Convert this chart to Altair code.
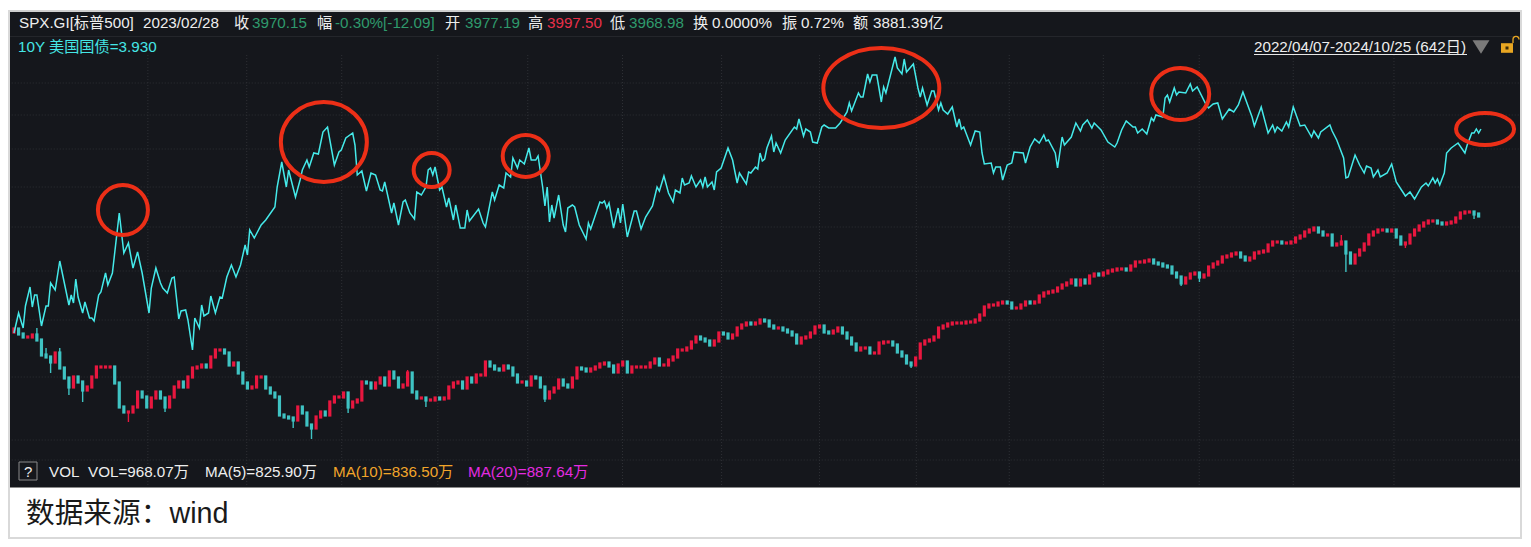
import altair as alt
import pandas as pd

# Trading-day index (0 = 2022/04/07) and height readings of the 10Y yield line
yield_days = [
0,2,4,5,7,8,9,10,12,14, 15,16,18,20,24,25,26,27,28,30,
31,33,34,35,37,38,40,41,43,46, 48,50,52,54,56,59,60,62,64,65,
67,69,70,72,73,75,76,78,79,81, 82,83,85,86,88,90,91,93,95,97,
99,101,102,103,105,108,110,114,115,117, 119,120,123,125,126,128,129,131,133,135,
137,140,142,143,145,148,149,150,152,154, 156,158,160,161,162,165,166,168,170,171,
173,175,176,178,180,181,182,183,184,186, 187,189,190,192,193,195,197,198,199,203,
205,206,209,210,212,214,215,217,218,220, 221,223,225,226,228,229,231,232,233,234,
235,236,238,240,241,242,244,245,247,250, 251,252,256,257,258,259,260,262,264,265,
266,268,271,272,274,276,279,281,282,284, 286,288,289,291,292,293,295,296,298,300,
301,302,303,305,306,307,309,312,314,316, 317,320,321,322,324,325,326,327,328,329,
331,332,333,335,337,341,342,343,345,346, 348,349,351,353,354,356,359,361,364,365,
366,369,370,371,373,374,375,377,379,380, 381,385,386,388,389,390,393,395,396,397,
399,401,402,404,405,406,408,410,412,413, 414,415,418,420,422,423,424,427,428,429,
431,432,434,436,437,441,442,444,446,448, 450,451,452,455,456,458,459,462,464,466,
467,469,471,472,475,478,481,482,484,486, 489,490,491,493,495,497,498,499,502,503,
504,505,507,508,509,512,514,515,517,521, 522,524,526,528,531,533,535,537,541,542,
545,548,550,551,552,554,556,557,559,562, 564,567,568,570,571,575,576,578,581,582,
583,586,588,590,591,593,594,596,597,600, 602,604,608,610,612,615,617,618,620,621,
622,623,625,626,628,631,634,635,637,638, 639,640,641]
yield_levels = [
167,187,172,194,213,193,205,205,174,194, 194,217,210,239,195,205,197,221,203,187,
198,182,182,179,205,208,227,215,227,287, 247,257,232,248,227,187,212,232,217,212,
207,222,223,181,189,190,180,150,182,172, 195,184,187,204,187,203,202,223,235,223,
235,255,245,270,262,275,280,293,313,338, 313,330,303,320,330,340,333,347,346,368,
373,335,348,350,362,367,355,325,329,309, 327,325,310,309,318,287,297,275,298,300,
287,281,308,305,313,330,332,325,333,310, 313,293,302,280,295,272,272,290,279,291,
277,273,308,300,315,312,327,323,342,332, 340,336,352,340,340,344,313,294,313,278,
295,282,305,275,268,292,295,293,275,261, 277,271,298,297,299,292,297,272,292,277,
296,263,289,289,271,283,294,313,309,324, 307,298,310,307,322,315,317,324,313,320,
313,323,313,318,310,328,332,352,340,317, 327,316,328,327,333,331,347,339,341,352,
364,348,357,347,360,373,371,381,364,371, 368,358,357,373,375,372,372,377,388,397,
389,407,403,403,426,418,425,425,398,413, 407,443,432,426,441,428,436,412,403,412,
395,409,409,390,397,390,386,393,373,381, 371,373,355,369,368,347,336,337,327,333,
333,320,335,337,348,347,337,353,361,357, 365,359,360,347,332,363,355,363,377,369,
375,380,372,377,370,358,353,357,370,379, 373,373,367,371,366,382,379,385,383,402,
405,398,412,405,408,407,416,409,413,395, 392,396,397,381,391,388,395,408,383,374,
393,367,375,368,373,369,378,373,393,374, 375,363,369,362,368,375,369,360,342,322,
323,345,335,327,334,332,323,330,323,327, 336,318,304,308,301,313,317,314,322,317,
321,315,327,347,352,357,347,355,367,367, 371,367,371]

# S&P 500 closes, one candle per two trading days, same height units
spx_close = [
171,166,163,163,165,160,145,143,138,147, 132,122,113,123,118,110,113,123,133,133,
133,133,117,93,88,88,93,108,103,93, 102,108,102,93,103,113,118,113,123,132,
133,135,133,143,150,150,147,135,137,127, 117,112,113,123,123,112,107,103,85,83,
82,80,93,87,75,72,83,88,85,98, 103,103,107,93,
98,100,118,117,112,117,122,115,128,122, 113,115,127,108,102,102,100,100,102,101,
102,113,117,118,112,122,118,125,125,138, 134,131,130,134,132,125,118,118,115,123,
122,113,102,108,112,120,115,113,122,132, 131,129,131,133,136,137,134,128,135,138,
128,133,133,133,133,137,141,135,135,140, 143,150,150,152,158,163,161,159,155,159,
167,166,162,165,172,
175,177,176,177,180,179,174,172,172,170, 168,165,157,162,163,167,173,174,168,167,
169,172,167,162,156,150,152,152,147,147, 157,158,158,155,148,144,137,135,142,156,
159,160,163,172,174,176,177,177,177,178, 178,180,185,193,195,195,197,198,197,192,
192,195,198,197,198,204,207,208,209,212, 215,217,220,215,220,217,224,226,225,227,
229,230,231,231,230,
234,238,238,239,240,237,236,234,233,227, 223,217,222,226,227,223,225,233,236,238,
243,244,246,247,243,240,242,247,248,249, 255,258,258,257,257,258,262,264,268,270,
272,268,265,265,255,256,258,247,237,245, 250,256,265,268,270,270,269,270,263,256,
257,265,270,274,277,279,279,277,276,277, 278,282,287,288,288,286,284]
spx_first_open = 168

# Candles with a visible wick: candle number and the wick's far end
wick_candle = [5,7,8,10,12,15,25,33,61,65,73,86,90,116,196,255,259,290,291,304,319]
wick_level = [172,152,127,152,105,98,78,88,72,61,87,130,93,98,132,214,218,265,228,252,281]

grid_days = [58.5,101.7,143.2,185.2,224.5,265.9,309.2,352,394.3,434.9,476,517.9,559,603]
grid_levels = [417,385,351,313,273,229,180,123,60,40]

# Hand-drawn ellipses: centre in day/height units, half-axes in pixels
ring_days = [47.6,135.4,182.5,223.6,379,509.6,642.8]
ring_levels = [290,358,330,344,412,406,371]
ring_rx = [25,43,18,23,58,29,29]
ring_ry = [25,40,17,21,40,26,16]

header_labels = ["SPX.GI[标普500]","2023/02/28","收","3970.15","幅","-0.30%[-12.09]","开","3977.19",
                 "高","3997.50","低","3968.98","换","0.0000%","振","0.72%","额","3881.39亿"]
legend_yield = "10Y 美国国债=3.930"
range_label = "2022/04/07-2024/10/25 (642日)"
vol_labels = ["VOL","VOL=968.07万","MA(5)=825.90万","MA(10)=836.50万","MA(20)=887.64万"]
source_label = "数据来源：wind"

FONT = "Liberation Sans, Noto Sans CJK SC"
WHITE, GREEN, REDT = "#eeeeee", "#2f9a6c", "#e8304a"
one = pd.DataFrame({"a": [0]})

xs = alt.Scale(domain=[-2.62, 658.95], nice=False, zero=False)
ys = alt.Scale(domain=[-39, 492], nice=False, zero=False)
X = alt.X("day:Q", scale=xs, axis=None)
Y = alt.Y("level:Q", scale=ys, axis=None)

def box(x0, y0, x1, y1, color, **kw):
    return alt.Chart(one).mark_rect(color=color, **kw).encode(
        x=alt.value(x0 - 8), x2=alt.value(x1 - 8), y=alt.value(y0 - 8), y2=alt.value(y1 - 8))

def label(txt, x, y, color=WHITE, size=15.2, **kw):
    return alt.Chart(one).mark_text(font=FONT, fontSize=size, color=color, align="left",
                                    baseline="middle", **kw).encode(
        x=alt.value(x - 8), y=alt.value(y - 7), text=alt.value(txt))

def glyph(path, x, y, size, **kw):
    return alt.Chart(one).mark_point(shape=path, size=size, **kw).encode(
        x=alt.value(x - 8), y=alt.value(y - 8))

chrome = [
    box(8, 10, 1522, 12, "#cfcfcf"),
    box(8, 10, 10, 539, "#d9d9d9"),
    box(1520, 10, 1522, 539, "#d9d9d9"),
    box(8, 537, 1522, 539, "#d9d9d9"),
    box(10, 12, 1520, 487, "#15171c"),
    box(10, 487, 1520, 488, "#8a8a8a"),
    box(10, 36, 1520, 37, "#24262b"),
]

grid_v = alt.Chart(pd.DataFrame({"day": grid_days, "top": 445, "bot": 13})).mark_rule(
    color="#2e3035", strokeWidth=1, strokeDash=[1, 2]).encode(
    x=X, y=alt.Y("top:Q", scale=ys, axis=None), y2="bot:Q")
grid_h = alt.Chart(pd.DataFrame({"level": grid_levels, "a": -1, "b": 658})).mark_rule(
    color="#2e3035", strokeWidth=1, strokeDash=[1, 2]).encode(
    y=Y, x=alt.X("a:Q", scale=xs, axis=None), x2="b:Q")

candles = pd.DataFrame({"day": [2 * i for i in range(len(spx_close))], "close": spx_close})
candles["open"] = [spx_first_open] + spx_close[:-1]
candles["dir"] = ["up" if c >= o else "down" for c, o in zip(candles["close"], candles["open"])]
color_enc = alt.Color("dir:N", legend=None,
                      scale=alt.Scale(domain=["up", "down"], range=["#e8173f", "#3fc3c3"]))
body = alt.Chart(candles).mark_rule(strokeWidth=3.2, strokeCap="square").encode(
    x=X, y=alt.Y("open:Q", scale=ys, axis=None), y2="close:Q", color=color_enc)
wicks_df = candles.iloc[wick_candle].copy()
wicks_df["far"] = wick_level
wicks = alt.Chart(wicks_df).mark_rule(strokeWidth=1.4).encode(
    x=X, y=alt.Y("far:Q", scale=ys, axis=None), y2="close:Q", color=color_enc)

yield_line = alt.Chart(pd.DataFrame({"day": yield_days, "level": yield_levels})).mark_line(
    color="#45eaea", strokeWidth=1.5, strokeJoin="miter").encode(x=X, y=Y)

rings = []
for d, l, rx, ry in zip(ring_days, ring_levels, ring_rx, ring_ry):
    k = ry / rx
    path = f"M-1,0A1,{k:.3f} 0 1,1 1,0A1,{k:.3f} 0 1,1 -1,0Z"
    rings.append(alt.Chart(pd.DataFrame({"day": [d], "level": [l]})).mark_point(
        shape=path, size=(2 * rx) ** 2, filled=False, stroke="#ec2f17", strokeWidth=4, opacity=1).encode(x=X, y=Y))

hx = [19, 143, 234, 252, 317, 335, 445, 465, 528, 547, 610, 629, 693, 712, 782, 801, 853, 873]
hc = [WHITE, WHITE, WHITE, GREEN, WHITE, GREEN, WHITE, GREEN, WHITE, REDT, WHITE, GREEN,
      WHITE, WHITE, WHITE, WHITE, WHITE, WHITE]
texts = [label(t, x, 22, c) for t, x, c in zip(header_labels, hx, hc)]
texts.append(label(legend_yield, 18, 46, "#45e6e6"))
texts.append(label(range_label, 1254, 46))
texts.append(box(1254, 54, 1467, 55, "#e6e6e6"))
for t, x, c in zip(vol_labels, [49, 88, 205, 333, 468],
                   [WHITE, WHITE, WHITE, "#f2a52a", "#e52be0"]):
    texts.append(label(t, x, 471, c))
texts.append(label("?", 24, 471, WHITE, 15))
texts.append(glyph("M-1,-1L1,-1L1,1L-1,1Z", 28, 471, 324, filled=False, stroke="#8a8a8a", strokeWidth=1, opacity=1))
texts.append(label(source_label, 26, 513, "#1a1a1a", 28.7))

icons = [
    glyph("M-1,-0.8L1,-0.8L0,0.8Z", 1481, 47, 289, filled=True, fill="#7a7a7a", stroke=None, opacity=1),
    glyph("M-1,-0.8L1,-0.8L1,0.8L-1,0.8Z", 1507, 48, 144, filled=True, fill="#e8a622", stroke=None, opacity=1),
    glyph("M-1,-1L1,-1L1,1L-1,1Z", 1507, 48, 9, filled=True, fill="#3a2a08", stroke=None, opacity=1),
    glyph("M-1,1L-1,-0.2A1,1 0 0,1 1,-0.2", 1516, 40, 36, filled=False, stroke="#e8a622", strokeWidth=1.3, opacity=1),
]

chart = alt.layer(
    *chrome, grid_v, grid_h, body, wicks, yield_line, *rings, *texts, *icons
).resolve_scale(color="independent").properties(
    width=1515, height=531, padding=0, background="white",
    autosize=alt.AutoSizeParams(type="fit", contains="padding"),
).configure_view(stroke=None)

assert len(yield_days) == len(yield_levels), (len(yield_days), len(yield_levels))
assert len(spx_close) == 321, len(spx_close)
chart.save("out.html", embed_options={"renderer": "svg", "actions": False})
